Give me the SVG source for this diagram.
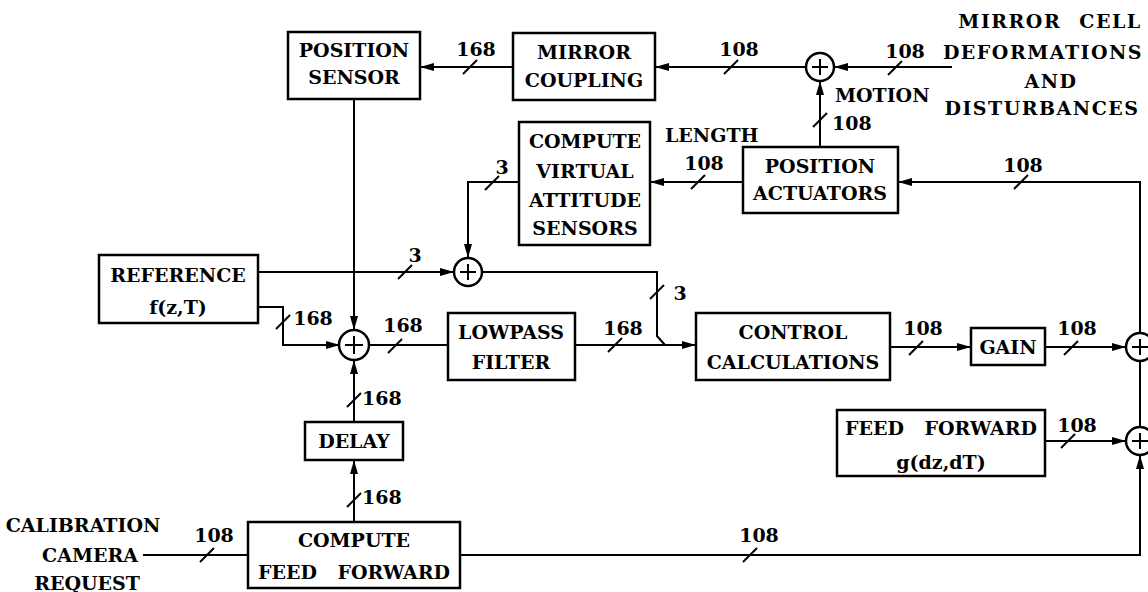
<svg xmlns="http://www.w3.org/2000/svg" width="1148" height="592" viewBox="0 0 1148 592">
<defs>
<marker id="ah" markerUnits="userSpaceOnUse" markerWidth="16" markerHeight="10" refX="14" refY="5" orient="auto">
<path d="M0,1 L14,5 L0,9 Z" fill="#000"/>
</marker>
<style>
.box{fill:#fff;stroke:#000;stroke-width:2.5}
.ln{fill:none;stroke:#000;stroke-width:2}
.sl{stroke:#000;stroke-width:2}
.sum{fill:#fff;stroke:#000;stroke-width:2.5}
.t{font-family:"DejaVu Serif","Liberation Serif",serif;font-weight:bold;font-size:19px;text-anchor:middle;fill:#000}
.l{text-anchor:start}
.w{letter-spacing:1.5px}
</style>
</defs>
<rect width="1148" height="592" fill="#fff"/>

<g id="connectors">
<line class="ln" x1="513" y1="67" x2="420" y2="67" marker-end="url(#ah)"/>
<line class="ln" x1="806" y1="67" x2="655" y2="67" marker-end="url(#ah)"/>
<line class="ln" x1="952" y1="67" x2="834" y2="67" marker-end="url(#ah)"/>
<line class="ln" x1="820" y1="147" x2="820" y2="81" marker-end="url(#ah)"/>
<line class="ln" x1="743" y1="182" x2="650" y2="182" marker-end="url(#ah)"/>
<polyline class="ln" points="519,182 468,182 468,258" marker-end="url(#ah)"/>
<line class="ln" x1="258" y1="272" x2="454" y2="272" marker-end="url(#ah)"/>
<polyline class="ln" points="482,272 657,272 657,336 665,345"/>
<line class="ln" x1="354" y1="99" x2="354" y2="330" marker-end="url(#ah)"/>
<polyline class="ln" points="258,307 283,307 283,345 340,345" marker-end="url(#ah)"/>
<line class="ln" x1="369" y1="345" x2="448" y2="345"/>
<line class="ln" x1="575" y1="345" x2="696" y2="345" marker-end="url(#ah)"/>
<line class="ln" x1="890" y1="347" x2="971" y2="347" marker-end="url(#ah)"/>
<line class="ln" x1="1045" y1="347" x2="1126" y2="347" marker-end="url(#ah)"/>
<line class="ln" x1="1045" y1="441" x2="1126" y2="441" marker-end="url(#ah)"/>
<line class="ln" x1="1140" y1="427" x2="1140" y2="361"/>
<polyline class="ln" points="1140,333 1140,182 898,182" marker-end="url(#ah)"/>
<polyline class="ln" points="460,555 1140,555 1140,455" marker-end="url(#ah)"/>
<line class="ln" x1="354" y1="422" x2="354" y2="360" marker-end="url(#ah)"/>
<line class="ln" x1="354" y1="522" x2="354" y2="460" marker-end="url(#ah)"/>
<line class="ln" x1="143" y1="555" x2="248" y2="555"/>
<g id="slashes">
<line class="sl" x1="463" y1="74" x2="477" y2="60"/>
<line class="sl" x1="724" y1="74" x2="738" y2="60"/>
<line class="sl" x1="888" y1="75" x2="902" y2="61"/>
<line class="sl" x1="813" y1="127" x2="827" y2="113"/>
<line class="sl" x1="691" y1="189" x2="705" y2="175"/>
<line class="sl" x1="485" y1="190" x2="499" y2="176"/>
<line class="sl" x1="1014" y1="189" x2="1028" y2="175"/>
<line class="sl" x1="398" y1="279" x2="412" y2="265"/>
<line class="sl" x1="650" y1="299" x2="664" y2="285"/>
<line class="sl" x1="276" y1="329" x2="290" y2="315"/>
<line class="sl" x1="388" y1="353" x2="402" y2="339"/>
<line class="sl" x1="608" y1="352" x2="622" y2="338"/>
<line class="sl" x1="909" y1="355" x2="923" y2="341"/>
<line class="sl" x1="1064" y1="355" x2="1078" y2="341"/>
<line class="sl" x1="1061" y1="448" x2="1075" y2="434"/>
<line class="sl" x1="347" y1="407" x2="361" y2="393"/>
<line class="sl" x1="347" y1="507" x2="361" y2="493"/>
<line class="sl" x1="743" y1="562" x2="757" y2="548"/>
<line class="sl" x1="200" y1="562" x2="214" y2="548"/>
</g>
</g>

<g id="labels">
<text class="t" x="476" y="56">168</text>
<text class="t" x="739" y="56">108</text>
<text class="t" x="905" y="58">108</text>
<text class="t l" x="835" y="102">MOTION</text>
<text class="t l" x="832" y="130">108</text>
<text class="t l" x="665" y="142">LENGTH</text>
<text class="t" x="704" y="170">108</text>
<text class="t" x="502" y="174">3</text>
<text class="t" x="1023" y="172">108</text>
<text class="t" x="415" y="262">3</text>
<text class="t" x="680" y="300">3</text>
<text class="t" x="313" y="325">168</text>
<text class="t" x="403" y="332">168</text>
<text class="t" x="623" y="335">168</text>
<text class="t" x="923" y="335">108</text>
<text class="t" x="1077" y="335">108</text>
<text class="t" x="1077" y="432">108</text>
<text class="t l" x="362" y="405">168</text>
<text class="t l" x="362" y="504">168</text>
<text class="t" x="759" y="542">108</text>
<text class="t" x="214" y="542">108</text>
</g>

<g id="disturbances">
<text class="t w" x="1050" y="28" word-spacing="10">MIRROR CELL</text>
<text class="t w" x="1043" y="59">DEFORMATIONS</text>
<text class="t w" x="1051" y="88">AND</text>
<text class="t w" x="1042" y="115">DISTURBANCES</text>
</g>
<g id="calibration">
<text class="t" x="83" y="532">CALIBRATION</text>
<text class="t" x="90" y="562">CAMERA</text>
<text class="t" x="87" y="590">REQUEST</text>
</g>

<g id="position-sensor">
<rect class="box" x="288" y="32" width="132" height="67"/>
<text class="t" x="354" y="57">POSITION</text>
<text class="t" x="354" y="84">SENSOR</text>
</g>
<g id="mirror-coupling">
<rect class="box" x="513" y="33" width="142" height="67"/>
<text class="t" x="584" y="59">MIRROR</text>
<text class="t" x="584" y="87">COUPLING</text>
</g>
<g id="sum-top">
<circle class="sum" cx="820" cy="67" r="14"/>
<path class="ln" d="M812,67 H828 M820,59 V75"/>
</g>
<g id="position-actuators">
<rect class="box" x="743" y="147" width="155" height="66"/>
<text class="t" x="820" y="173">POSITION</text>
<text class="t" x="820" y="200">ACTUATORS</text>
</g>
<g id="compute-virtual">
<rect class="box" x="519" y="122" width="131" height="123"/>
<text class="t" x="585" y="148">COMPUTE</text>
<text class="t" x="585" y="178">VIRTUAL</text>
<text class="t" x="585" y="207">ATTITUDE</text>
<text class="t" x="585" y="235">SENSORS</text>
</g>
<g id="sum-mid">
<circle class="sum" cx="468" cy="272" r="14"/>
<path class="ln" d="M460,272 H476 M468,264 V280"/>
</g>
<g id="reference">
<rect class="box" x="99" y="255" width="159" height="68"/>
<text class="t" x="178" y="282">REFERENCE</text>
<text class="t" x="178" y="314">f(z,T)</text>
</g>
<g id="sum-main">
<circle class="sum" cx="354" cy="345" r="15"/>
<path class="ln" d="M345,345 H363 M354,336 V354"/>
</g>
<g id="lowpass">
<rect class="box" x="448" y="313" width="127" height="67"/>
<text class="t" x="511" y="339">LOWPASS</text>
<text class="t" x="511" y="369">FILTER</text>
</g>
<g id="control">
<rect class="box" x="696" y="313" width="194" height="67"/>
<text class="t" x="793" y="339">CONTROL</text>
<text class="t" x="793" y="369">CALCULATIONS</text>
</g>
<g id="gain">
<rect class="box" x="971" y="328" width="74" height="37"/>
<text class="t" x="1008" y="354">GAIN</text>
</g>
<g id="sum-right-top">
<circle class="sum" cx="1140" cy="347" r="14"/>
<path class="ln" d="M1132,347 H1148 M1140,339 V355"/>
</g>
<g id="feed-forward">
<rect class="box" x="837" y="410" width="208" height="66"/>
<text class="t" x="941" y="435" word-spacing="14">FEED FORWARD</text>
<text class="t" x="941" y="469">g(dz,dT)</text>
</g>
<g id="sum-right-bottom">
<circle class="sum" cx="1140" cy="441" r="14"/>
<path class="ln" d="M1132,441 H1148 M1140,433 V449"/>
</g>
<g id="delay">
<rect class="box" x="305" y="422" width="98" height="38"/>
<text class="t" x="354" y="448">DELAY</text>
</g>
<g id="compute-ff">
<rect class="box" x="248" y="522" width="212" height="66"/>
<text class="t" x="354" y="547">COMPUTE</text>
<text class="t" x="354" y="579" word-spacing="14">FEED FORWARD</text>
</g>
</svg>
